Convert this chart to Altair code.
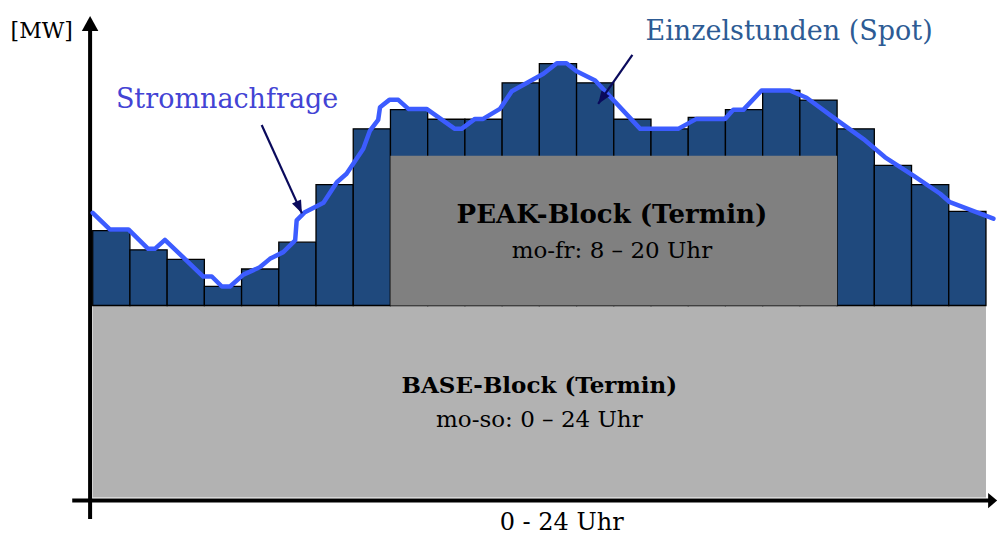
import altair as alt
import pandas as pd

# ---------------- data ----------------
hours = list(range(24))
spot_mw = [139, 129, 124, 110, 119, 133, 163, 192, 202, 197, 197, 216,
           226, 216, 197, 192, 198, 202, 212, 207, 192, 173, 163, 149]
base_level = 100
peak_level = 178
peak_from, peak_to = 8, 20
day_start, day_end = 0, 24

demand_h = [0.0, 0.46, 0.96, 1.49, 1.67, 1.94, 2.97, 3.20, 3.47, 3.69, 4.05, 4.49,
            4.76, 5.12, 5.44, 5.48, 5.70, 6.20, 6.56, 6.82, 7.27, 7.45, 7.67, 7.72,
            7.97, 8.21, 8.48, 8.97, 9.73, 9.91, 10.27, 10.49, 10.94, 11.26, 12.11,
            12.47, 12.73, 13.00, 13.50, 14.71, 15.73, 16.22, 16.99, 17.21, 17.48,
            17.97, 18.73, 19.18, 19.99, 20.70, 21.29, 22.05, 22.77, 23.03, 24.20]
demand_mw = [148.3, 139.6, 139.6, 129.5, 129.5, 134.2, 115.1, 115.1, 109.9, 109.9,
             116.1, 119.9, 124.3, 127.8, 133.9, 144.3, 148.6, 153.5, 164.2, 168.6,
             181.6, 191.1, 196.7, 203.3, 207.1, 207.1, 202.4, 202.4, 192.0, 192.0,
             197.2, 197.2, 202.4, 211.6, 220.7, 226.2, 226.2, 222.0, 217.2, 192.0,
             192.0, 197.2, 197.2, 201.9, 201.9, 212.0, 212.0, 208.2, 196.7, 186.8,
             177.2, 167.7, 158.2, 153.8, 145.2]

# annotation arrows: start / tip (hour, MW)
arrow_x = [4.54, 14.50]
arrow_y = [194.0, 230.5]
arrow_tip_x = [5.62, 13.58]
arrow_tip_y = [148.0, 205.0]
arrow_angle = [155.6, 214.8]

# text labels
label_text = ["[MW]", "Stromnachfrage", "Einzelstunden (Spot)",
              "PEAK-Block (Termin)", "mo-fr: 8 \u2013 20 Uhr",
              "BASE-Block (Termin)", "mo-so: 0 \u2013 24 Uhr", "0 - 24 Uhr"]
label_x = [-1.37, 3.61, 18.71, 13.95, 13.95, 12.0, 12.0, 12.6]
label_y = [239.3, 203.1, 238.3, 143.0, 124.7, 54.3, 36.9, -16.8]
label_size = [22, 27, 27, 26, 23, 23, 23, 24]
label_weight = ["normal", "normal", "normal", "bold", "normal", "bold", "normal", "normal"]
label_color = ["#000000", "#4343d4", "#2d5b94", "#000000", "#000000", "#000000", "#000000", "#000000"]

# axis geometry (hour / MW)
yaxis_x = -0.07
yaxis_bottom, yaxis_top, yaxis_tip = -11.2, 244.0, 250.8
xaxis_y = -1.6
xaxis_left, xaxis_right, xaxis_tip = -0.55, 24.1, 24.3

# ---------------- scales ----------------
X_DOM = [-2.2757, 24.323]
Y_DOM = [-20.57, 254.95]
xs = alt.Scale(domain=X_DOM, nice=False, zero=False)
ys = alt.Scale(domain=Y_DOM, nice=False, zero=False)
FONT = "DejaVu Serif"


def X(f):
    return alt.X(f, type="quantitative", scale=xs, axis=None)


def Y(f):
    return alt.Y(f, type="quantitative", scale=ys, axis=None)


# ---------------- layers ----------------
base_df = pd.DataFrame({"x": [day_start], "x2": [day_end], "y": [0], "y2": [base_level]})
base = alt.Chart(base_df).mark_rect(color="#b2b2b2").encode(
    x=X("x"), x2="x2", y=Y("y"), y2="y2")

bars_df = pd.DataFrame({"h": hours, "h2": [h + 1 for h in hours],
                        "lo": [base_level] * 24, "mw": spot_mw})
bars = alt.Chart(bars_df).mark_rect(color="#1f497d", stroke="#000000", strokeWidth=1.3).encode(
    x=X("h"), x2="h2", y=Y("lo"), y2="mw")

peak_df = pd.DataFrame({"x": [peak_from], "x2": [peak_to], "y": [base_level], "y2": [peak_level]})
peak = alt.Chart(peak_df).mark_rect(color="#808080").encode(
    x=X("x"), x2="x2", y=Y("y"), y2="y2")

dem_df = pd.DataFrame({"h": demand_h, "mw": demand_mw, "i": list(range(len(demand_h)))})
demand = alt.Chart(dem_df).mark_line(color="#3c5cff", strokeWidth=4.5,
                                     strokeJoin="round", strokeCap="round").encode(
    x=X("h"), y=Y("mw"), order="i:Q")

yaxis_df = pd.DataFrame({"x": [yaxis_x], "y": [yaxis_bottom], "y2": [yaxis_top]})
yaxis = alt.Chart(yaxis_df).mark_rule(color="black", strokeWidth=4).encode(
    x=X("x"), y=Y("y"), y2="y2")
yhead_df = pd.DataFrame({"x": [yaxis_x], "y": [yaxis_tip]})
yhead = alt.Chart(yhead_df).mark_point(shape="M0,0L-0.55,1L0.55,1Z", filled=True, opacity=1,
                                       color="black", size=900, angle=0).encode(
    x=X("x"), y=Y("y"))

xaxis_df = pd.DataFrame({"x": [xaxis_left], "x2": [xaxis_right], "y": [xaxis_y]})
xaxis = alt.Chart(xaxis_df).mark_rule(color="black", strokeWidth=4).encode(
    x=X("x"), x2="x2", y=Y("y"))
xhead_df = pd.DataFrame({"x": [xaxis_tip], "y": [xaxis_y]})
xhead = alt.Chart(xhead_df).mark_point(shape="M0,0L-0.85,1L0.85,1Z", filled=True, opacity=1,
                                       color="black", size=324, angle=90).encode(
    x=X("x"), y=Y("y"))

arr_df = pd.DataFrame({"x": arrow_x, "y": arrow_y, "x2": arrow_tip_x, "y2": arrow_tip_y,
                       "a": arrow_angle})
arr_line = alt.Chart(arr_df).mark_rule(color="#0a0a5c", strokeWidth=2.2).encode(
    x=X("x"), y=Y("y"), x2="x2", y2="y2")
arr_head = alt.Chart(arr_df).mark_point(shape="M0,0L-0.38,1L0.38,1Z", filled=True, opacity=1,
                                        color="#0a0a5c", size=676).encode(
    x=X("x2"), y=Y("y2"), angle=alt.Angle("a:Q", scale=None))

lab_df = pd.DataFrame({"t": label_text, "x": label_x, "y": label_y, "s": label_size,
                       "w": label_weight, "c": label_color})
labels = []
for i in range(len(label_text)):
    labels.append(
        alt.Chart(lab_df.iloc[[i]]).mark_text(
            font=FONT, fontSize=label_size[i], fontWeight=label_weight[i],
            color=label_color[i], align="center", baseline="alphabetic").encode(
            x=X("x"), y=Y("y"), text="t:N"))

chart = alt.layer(base, bars, peak, xaxis, xhead, yaxis, yhead, demand,
                  arr_line, arr_head, *labels).properties(
    width=990, height=529, padding=0, autosize="none", background="white"
).configure_view(stroke=None)

chart.save("out.html", embed_options={"renderer": "svg", "actions": False})
